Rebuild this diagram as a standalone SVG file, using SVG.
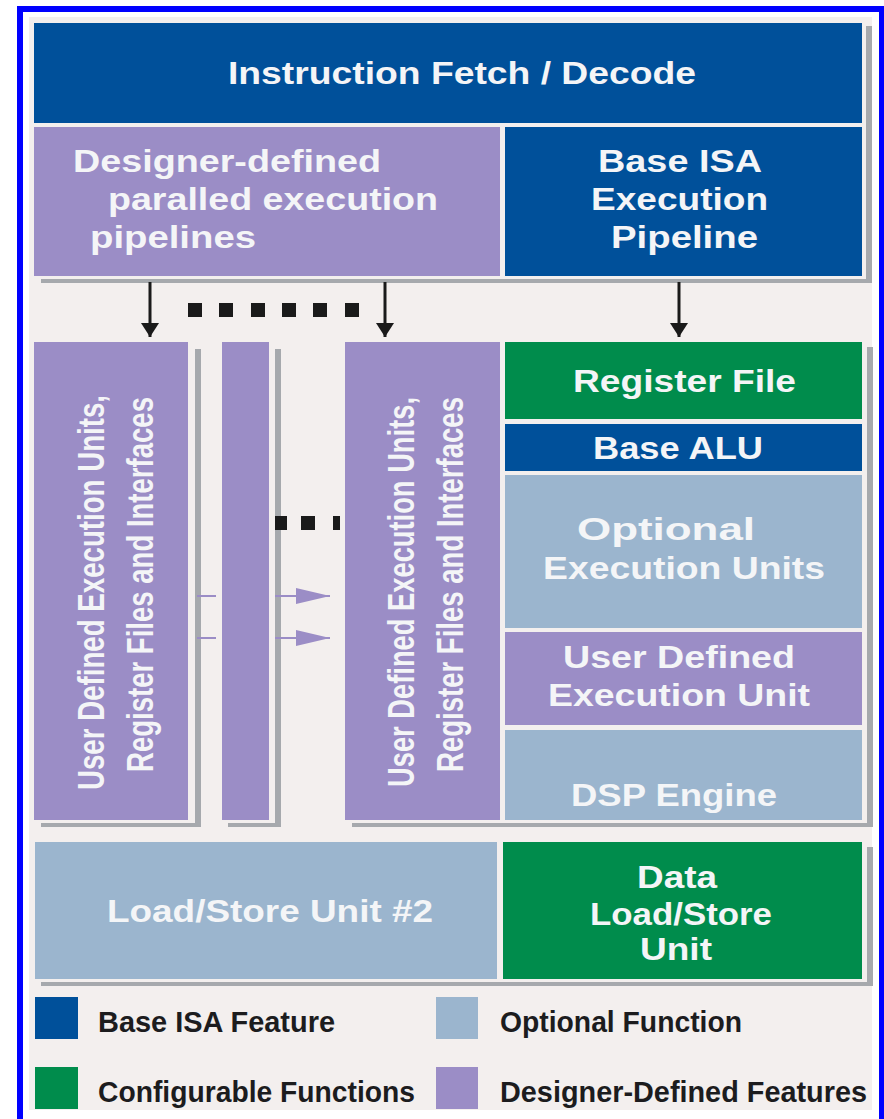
<svg xmlns="http://www.w3.org/2000/svg" width="884" height="1119" viewBox="0 0 884 1119">
  <defs>
    <style>
      .base { fill: #00509a; }
      .conf { fill: #008c4c; }
      .opt { fill: #9bb5ce; }
      .dsg { fill: #9b8dc6; }
      .shd { fill: #a6a9ad; }
      .lbl { font-family: "Liberation Sans", Arial, sans-serif; font-weight: bold; fill: #f4f5f7; font-size: 32px; }
      .vlbl { font-family: "Liberation Sans Narrow", "Liberation Sans", Arial, sans-serif; font-weight: bold; fill: #f4f5f7; font-size: 36px; }
      .leg { font-family: "Liberation Sans Narrow", "Liberation Sans", Arial, sans-serif; font-weight: bold; fill: #1c1c1e; font-size: 29px; }
    </style>
    <marker id="arrDark" viewBox="0 0 14 18" refX="14" refY="9" markerWidth="14" markerHeight="18" markerUnits="userSpaceOnUse" orient="auto">
      <path d="M0,0 L14,9 L0,18 Z" fill="#1a1a1a"/>
    </marker>
    <marker id="arrPurple" viewBox="0 0 34 16" refX="34" refY="8" markerWidth="34" markerHeight="16" markerUnits="userSpaceOnUse" orient="auto">
      <path d="M0,0 L34,8 L0,16 Z" fill="#9b8dc6"/>
    </marker>
  </defs>

  <!-- page and frame -->
  <rect x="0" y="0" width="884" height="1119" fill="#ffffff"/>
  <rect x="29" y="17" width="843" height="1093" fill="#f3efee"/>
  <rect x="20" y="9" width="862" height="1125" fill="none" stroke="#0000ff" stroke-width="6"/>

  <!-- drop shadows -->
  <g id="shadows">
    <rect class="shd" x="866" y="26" width="6" height="256"/>
    <rect class="shd" x="41" y="279" width="831" height="4"/>
    <rect class="shd" x="195" y="349" width="6" height="478"/>
    <rect class="shd" x="41" y="823" width="160" height="4"/>
    <rect class="shd" x="275" y="349" width="6" height="478"/>
    <rect class="shd" x="228" y="823" width="53" height="4"/>
    <rect class="shd" x="867" y="347" width="6" height="480"/>
    <rect class="shd" x="352" y="823" width="521" height="4"/>
    <rect class="shd" x="867" y="847" width="6" height="139"/>
    <rect class="shd" x="41" y="982" width="832" height="4"/>
  </g>

  <g id="fetch-decode">
    <rect class="base" x="34" y="23" width="828" height="100"/>
    <text class="lbl" x="228" y="84" textLength="468" lengthAdjust="spacingAndGlyphs">Instruction Fetch / Decode</text>
  </g>

  <g id="designer-pipelines">
    <rect class="dsg" x="34" y="127" width="466" height="149"/>
    <text class="lbl" x="73" y="172" textLength="308" lengthAdjust="spacingAndGlyphs">Designer-defined</text>
    <text class="lbl" x="108" y="210" textLength="330" lengthAdjust="spacingAndGlyphs">paralled execution</text>
    <text class="lbl" x="90" y="248" textLength="166" lengthAdjust="spacingAndGlyphs">pipelines</text>
  </g>

  <g id="base-pipeline">
    <rect class="base" x="505" y="127" width="357" height="149"/>
    <text class="lbl" x="598" y="172" textLength="164" lengthAdjust="spacingAndGlyphs">Base ISA</text>
    <text class="lbl" x="591" y="210" textLength="177" lengthAdjust="spacingAndGlyphs">Execution</text>
    <text class="lbl" x="611" y="248" textLength="147" lengthAdjust="spacingAndGlyphs">Pipeline</text>
  </g>

  <g id="user-units-1">
    <rect class="dsg" x="34" y="342" width="154" height="478"/>
    <text class="vlbl" x="104" y="790" transform="rotate(-90 104 790)" textLength="395" lengthAdjust="spacingAndGlyphs">User Defined Execution Units,</text>
    <text class="vlbl" x="153" y="772" transform="rotate(-90 153 772)" textLength="375" lengthAdjust="spacingAndGlyphs">Register Files and Interfaces</text>
  </g>

  <g id="user-units-2">
    <rect class="dsg" x="222" y="342" width="47" height="478"/>
  </g>

  <g id="user-units-3">
    <rect class="dsg" x="345" y="342" width="155" height="478"/>
    <text class="vlbl" x="414" y="787" transform="rotate(-90 414 787)" textLength="390" lengthAdjust="spacingAndGlyphs">User Defined Execution Units,</text>
    <text class="vlbl" x="463" y="772" transform="rotate(-90 463 772)" textLength="375" lengthAdjust="spacingAndGlyphs">Register Files and Interfaces</text>
  </g>

  <g id="register-file">
    <rect class="conf" x="505" y="342" width="357" height="77"/>
    <text class="lbl" x="573" y="392" textLength="223" lengthAdjust="spacingAndGlyphs">Register File</text>
  </g>

  <g id="base-alu">
    <rect class="base" x="505" y="424" width="357" height="47"/>
    <text class="lbl" x="593" y="459" textLength="170" lengthAdjust="spacingAndGlyphs">Base ALU</text>
  </g>

  <g id="optional-units">
    <rect class="opt" x="505" y="475" width="357" height="153"/>
    <text class="lbl" x="577" y="540" textLength="178" lengthAdjust="spacingAndGlyphs">Optional</text>
    <text class="lbl" x="543" y="579" textLength="282" lengthAdjust="spacingAndGlyphs">Execution Units</text>
  </g>

  <g id="user-unit">
    <rect class="dsg" x="505" y="632" width="357" height="93"/>
    <text class="lbl" x="563" y="668" textLength="232" lengthAdjust="spacingAndGlyphs">User Defined</text>
    <text class="lbl" x="548" y="706" textLength="262" lengthAdjust="spacingAndGlyphs">Execution Unit</text>
  </g>

  <g id="dsp-engine">
    <rect class="opt" x="505" y="730" width="357" height="90"/>
    <text class="lbl" x="571" y="806" textLength="206" lengthAdjust="spacingAndGlyphs">DSP Engine</text>
  </g>

  <g id="load-store-2">
    <rect class="opt" x="35" y="842" width="462" height="137"/>
    <text class="lbl" x="107" y="922" textLength="326" lengthAdjust="spacingAndGlyphs">Load/Store Unit #2</text>
  </g>

  <g id="data-load-store">
    <rect class="conf" x="503" y="842" width="359" height="137"/>
    <text class="lbl" x="637" y="888" textLength="80" lengthAdjust="spacingAndGlyphs">Data</text>
    <text class="lbl" x="590" y="925" textLength="182" lengthAdjust="spacingAndGlyphs">Load/Store</text>
    <text class="lbl" x="640" y="960" textLength="72" lengthAdjust="spacingAndGlyphs">Unit</text>
  </g>

  <!-- ellipsis marks between parallel pipelines -->
  <g id="ellipsis" fill="#1a1a1a">
    <rect x="188" y="303" width="14" height="14"/>
    <rect x="219" y="303" width="14" height="14"/>
    <rect x="251" y="303" width="14" height="14"/>
    <rect x="282" y="303" width="14" height="14"/>
    <rect x="313" y="303" width="14" height="14"/>
    <rect x="345" y="303" width="14" height="14"/>
    <rect x="275" y="516" width="12" height="14"/>
    <rect x="301" y="516" width="14" height="14"/>
    <rect x="333" y="516" width="7" height="14"/>
  </g>

  <g id="connectors">
    <line x1="150" y1="282" x2="150" y2="337" stroke="#1a1a1a" stroke-width="3" marker-end="url(#arrDark)"/>
    <line x1="385" y1="282" x2="385" y2="337" stroke="#1a1a1a" stroke-width="3" marker-end="url(#arrDark)"/>
    <line x1="679" y1="282" x2="679" y2="337" stroke="#1a1a1a" stroke-width="3" marker-end="url(#arrDark)"/>
    <line x1="197" y1="596" x2="216" y2="596" stroke="#9b8dc6" stroke-width="2"/>
    <line x1="275" y1="596" x2="330" y2="596" stroke="#9b8dc6" stroke-width="2" marker-end="url(#arrPurple)"/>
    <line x1="197" y1="638" x2="216" y2="638" stroke="#9b8dc6" stroke-width="2"/>
    <line x1="275" y1="638" x2="330" y2="638" stroke="#9b8dc6" stroke-width="2" marker-end="url(#arrPurple)"/>
  </g>

  <g id="legend">
    <rect class="base" x="35" y="997" width="43" height="42"/>
    <text class="leg" x="98" y="1032" textLength="237" lengthAdjust="spacingAndGlyphs">Base ISA Feature</text>
    <rect class="conf" x="35" y="1067" width="43" height="42"/>
    <text class="leg" x="98" y="1102" textLength="317" lengthAdjust="spacingAndGlyphs">Configurable Functions</text>
    <rect class="opt" x="436" y="997" width="42" height="42"/>
    <text class="leg" x="500" y="1032" textLength="242" lengthAdjust="spacingAndGlyphs">Optional Function</text>
    <rect class="dsg" x="436" y="1067" width="42" height="42"/>
    <text class="leg" x="500" y="1102" textLength="367" lengthAdjust="spacingAndGlyphs">Designer-Defined Features</text>
  </g>
</svg>
